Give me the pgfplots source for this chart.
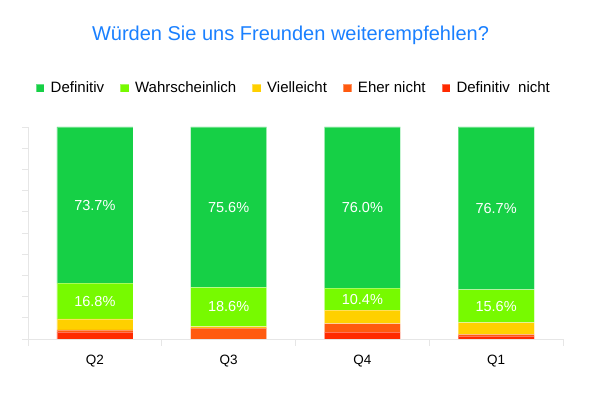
\documentclass[border=0pt]{standalone}
\usepackage{fontspec}
\setmainfont{Liberation Sans}
\usepackage{pgfplots}
\pgfplotsset{compat=1.18}
\definecolor{cDef}{HTML}{16D046}
\definecolor{cWahr}{HTML}{77FA00}
\definecolor{cViel}{HTML}{FFD000}
\definecolor{cEher}{HTML}{FF5A0F}
\definecolor{cDN}{HTML}{FF2A00}
\definecolor{cTitle}{HTML}{1A80FF}
\definecolor{cAxis}{HTML}{E6E6E6}
\begin{document}
\begin{tikzpicture}[x=1pt,y=1pt]
\path[use as bounding box] (0,0) rectangle (591,393);
\node[font=\fontsize{20}{24}\selectfont, text=cTitle] at (290.5,358) {Würden Sie uns Freunden weiterempfehlen?};
\begin{axis}[
  at={(28pt,54pt)}, anchor=south west, scale only axis,
  width=535pt, height=212pt,
  ybar stacked, bar width=0.57,
  xmin=-0.5, xmax=3.5, ymin=0, ymax=100,
  axis x line*=bottom, axis y line*=left,
  axis line style={draw=cAxis, line width=0.8pt},
  xtick={0,1,2,3}, xticklabels={Q2,Q3,Q4,Q1},
  xtick style={draw=none},
  minor xtick={-0.5,0.5,1.5,2.5,3.5},
  minor x tick style={draw=cAxis, line width=0.8pt},
  minor tick length=7pt,
  ytick={0,10,...,100}, yticklabels={},
  ytick style={draw=cAxis, line width=0.8pt},
  major tick length=6pt,
  tick align=outside,
  xticklabel style={font=\fontsize{13.5}{16}\selectfont, yshift=-7pt},
  legend columns=5, reverse legend,
  legend style={at={(0.495,1.184)}, anchor=center, draw=none, fill=none,
    font=\fontsize{15}{18}\selectfont,
    nodes={inner sep=0pt},
    /tikz/every odd column/.append style={column sep=6pt},
    /tikz/every even column/.append style={column sep=16pt}},
  legend image code/.code={\fill[#1] (0pt,-4.2pt) rectangle (8.5pt,4.2pt);},
]
\addplot[fill=cDN, draw=white, draw opacity=0.35, line width=0.5pt] coordinates {(0,3.2) (1,0) (2,3.2) (3,1.4)};
\addplot[fill=cEher, draw=white, draw opacity=0.35, line width=0.5pt] coordinates {(0,1.1) (1,5.2) (2,4.1) (3,0.8)};
\addplot[fill=cViel, draw=white, draw opacity=0.35, line width=0.5pt] coordinates {(0,5.2) (1,0.6) (2,6.3) (3,5.5)};
\addplot[fill=cWahr, draw=white, draw opacity=0.35, line width=0.5pt] coordinates {(0,16.8) (1,18.6) (2,10.4) (3,15.6)};
\addplot[fill=cDef, draw=white, draw opacity=0.35, line width=0.5pt] coordinates {(0,73.7) (1,75.6) (2,76.0) (3,76.7)};
\legend{Definitiv\ \ nicht, Eher nicht, Vielleicht, Wahrscheinlich, Definitiv}
\end{axis}
\begin{axis}[
  at={(28pt,54pt)}, anchor=south west, scale only axis,
  width=535pt, height=212pt,
  xmin=-0.5, xmax=3.5, ymin=0, ymax=100, hide axis,
]
\addplot[draw=none, mark=none, nodes near coords, point meta=explicit symbolic,
  every node near coord/.append style={anchor=center, text=white, font=\fontsize{14.5}{17}\selectfont}]
  coordinates {(0,63.15)[73.7\%] (1,62.2)[75.6\%] (2,62.0)[76.0\%] (3,61.65)[76.7\%]
               (0,17.9)[16.8\%] (1,15.1)[18.6\%] (2,18.8)[10.4\%] (3,15.5)[15.6\%]};
\end{axis}
\end{tikzpicture}
\end{document}
